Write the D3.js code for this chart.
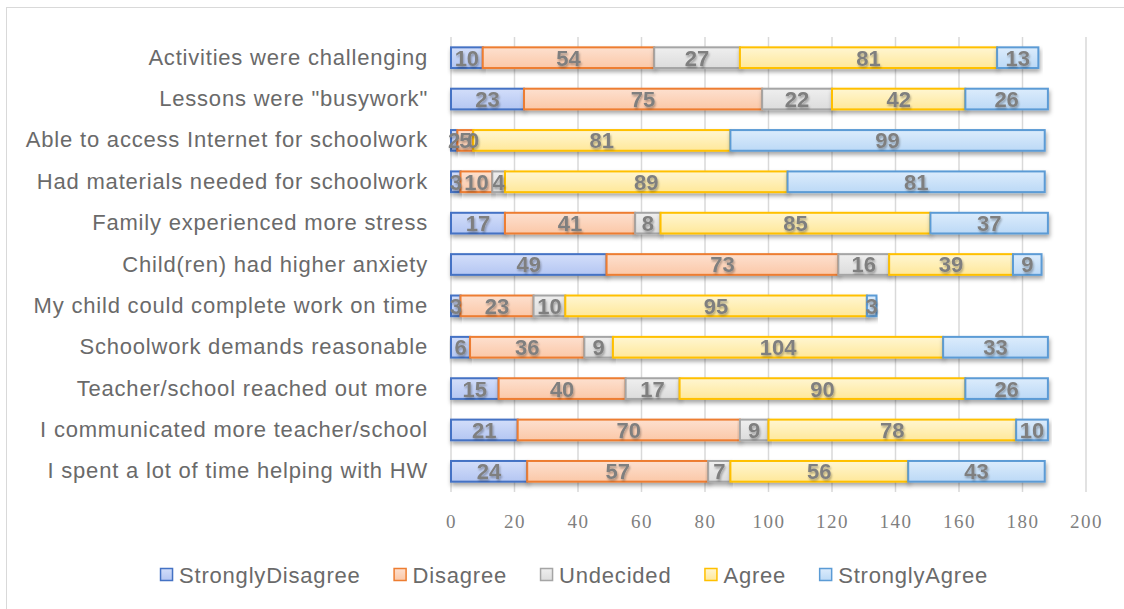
<!DOCTYPE html>
<html>
<head>
<meta charset="utf-8">
<script src="https://cdn.jsdelivr.net/npm/d3@7"></script>
<style>
  body { margin: 0; background: #fff; }
  svg { display: block; }
</style>
</head>
<body>
<svg id="chart"></svg>
<script>
// questions, top to bottom
var categories = [
  "Activities were challenging",
  "Lessons were \"busywork\"",
  "Able to access Internet for schoolwork",
  "Had materials needed for schoolwork",
  "Family experienced more stress",
  "Child(ren) had higher anxiety",
  "My child could complete work on time",
  "Schoolwork demands reasonable",
  "Teacher/school reached out more",
  "I communicated more teacher/school",
  "I spent a lot of time helping with HW"
];

var seriesNames = ["StronglyDisagree", "Disagree", "Undecided", "Agree", "StronglyAgree"];

var stronglyDisagree = [10, 23, 2, 3, 17, 49, 3, 6, 15, 21, 24];
var disagree         = [54, 75, 5, 10, 41, 73, 23, 36, 40, 70, 57];
var undecided        = [27, 22, 0, 4, 8, 16, 10, 9, 17, 9, 7];
var agree            = [81, 42, 81, 89, 85, 39, 95, 104, 90, 78, 56];
var stronglyAgree    = [13, 26, 99, 81, 37, 9, 3, 33, 26, 10, 43];

var xTicks = [0, 20, 40, 60, 80, 100, 120, 140, 160, 180, 200];

// colours: border, gradient top, gradient bottom
var colors = {
  StronglyDisagree: ["#4472C4", "#d3defa", "#b4c6f2"],
  Disagree:         ["#ED7D31", "#fde0cf", "#fbc8a8"],
  Undecided:        ["#A5A5A5", "#efefef", "#dcdcdc"],
  Agree:            ["#FFC000", "#fff6d2", "#ffe89a"],
  StronglyAgree:    ["#5B9BD5", "#dcecfc", "#bcd9f6"]
};

var rows = categories.map(function(c, i) {
  return {
    cat: c,
    StronglyDisagree: stronglyDisagree[i],
    Disagree: disagree[i],
    Undecided: undecided[i],
    Agree: agree[i],
    StronglyAgree: stronglyAgree[i]
  };
});

var W = 1124, H = 609;
var plot = { left: 451, right: 1086, top: 37, bottom: 492 };
var sans = "'Liberation Sans', Arial, sans-serif";

var svg = d3.select("#chart").attr("width", W).attr("height", H);

var defs = svg.append("defs");
seriesNames.forEach(function(s, i) {
  var g = defs.append("linearGradient")
    .attr("id", "grad" + i)
    .attr("x1", 0).attr("y1", 0).attr("x2", 0).attr("y2", 1);
  g.append("stop").attr("offset", "0%").attr("stop-color", colors[s][1]);
  g.append("stop").attr("offset", "100%").attr("stop-color", colors[s][2]);
});
var f = defs.append("filter").attr("id", "shadow")
  .attr("x", "-10%").attr("y", "-30%").attr("width", "120%").attr("height", "180%");
f.append("feDropShadow").attr("dx", 1).attr("dy", 3).attr("stdDeviation", 2)
  .attr("flood-color", "#000").attr("flood-opacity", 0.35);
var ft = defs.append("filter").attr("id", "tshadow")
  .attr("x", "-20%").attr("y", "-20%").attr("width", "150%").attr("height", "160%");
ft.append("feDropShadow").attr("dx", 1).attr("dy", 2).attr("stdDeviation", 1.2)
  .attr("flood-color", "#000").attr("flood-opacity", 0.3);

// chart border
svg.append("rect")
  .attr("x", 6.5).attr("y", 7.5)
  .attr("width", W - 4).attr("height", H - 4)
  .attr("fill", "none").attr("stroke", "#d9d9d9").attr("stroke-width", 1);

var x = d3.scaleLinear().domain([0, 200]).range([plot.left, plot.right]);
var y = d3.scaleBand().domain(categories).range([plot.top, plot.bottom]).paddingInner(0.5).paddingOuter(0.25);

// gridlines
svg.append("g").selectAll("line")
  .data(xTicks)
  .join("line")
  .attr("x1", function(d) { return x(d); })
  .attr("x2", function(d) { return x(d); })
  .attr("y1", plot.top).attr("y2", plot.bottom)
  .attr("stroke", "#d9d9d9").attr("stroke-width", 1.5);

// x axis labels
var xAxis = svg.append("g")
  .attr("transform", "translate(0," + (plot.bottom + 22) + ")")
  .call(d3.axisBottom(x).tickValues(xTicks).tickSize(0).tickPadding(0).tickFormat(d3.format("d")));
xAxis.select(".domain").remove();
xAxis.selectAll("text")
  .attr("font-family", "'Liberation Serif', 'DejaVu Serif', serif")
  .attr("font-size", 19)
  .attr("letter-spacing", 1.5)
  .attr("fill", "#7f7f7f");

// y axis labels
var yAxis = svg.append("g")
  .attr("transform", "translate(" + (plot.left - 23) + ",0)")
  .call(d3.axisLeft(y).tickSize(0).tickPadding(0));
yAxis.select(".domain").remove();
yAxis.selectAll("text")
  .attr("font-family", sans)
  .attr("font-size", 22)
  .attr("letter-spacing", 0.8)
  .attr("fill", "#6a6a6a");

var stacked = d3.stack().keys(seriesNames)(rows);

var layers = svg.append("g").selectAll("g")
  .data(stacked)
  .join("g");

layers.selectAll("rect")
  .data(function(d, i) { return d.map(function(p) { return { p: p, k: i }; }); })
  .join("rect")
  .attr("x", function(d) { return x(d.p[0]); })
  .attr("y", function(d) { return y(d.p.data.cat); })
  .attr("width", function(d) { return x(d.p[1]) - x(d.p[0]); })
  .attr("height", y.bandwidth())
  .attr("fill", function(d) { return "url(#grad" + d.k + ")"; })
  .attr("stroke", function(d) { return colors[seriesNames[d.k]][0]; })
  .attr("stroke-width", 2)
  .attr("filter", "url(#shadow)");

// value labels
var labels = svg.append("g").attr("filter", "url(#tshadow)");
stacked.forEach(function(layer) {
  labels.selectAll(null)
    .data(layer)
    .join("text")
    .attr("x", function(d) { return (x(d[0]) + x(d[1])) / 2; })
    .attr("y", function(d) { return y(d.data.cat) + y.bandwidth() / 2; })
    .attr("dy", "0.36em")
    .attr("text-anchor", "middle")
    .attr("font-family", sans)
    .attr("font-weight", "bold")
    .attr("font-size", 22)
    .attr("fill", "#7f7f7f")
    .text(function(d) { return d[1] - d[0]; });
});

// legend
var legend = svg.append("g");
var lx = 0;
seriesNames.forEach(function(s, i) {
  var g = legend.append("g");
  g.append("rect")
    .attr("x", 0.5).attr("y", -6.5)
    .attr("width", 12).attr("height", 12)
    .attr("fill", "url(#grad" + i + ")")
    .attr("stroke", colors[s][0]).attr("stroke-width", 1.5);
  var t = g.append("text")
    .attr("x", 19).attr("dy", "0.35em")
    .attr("font-family", sans)
    .attr("font-size", 22)
    .attr("letter-spacing", 0.8)
    .attr("fill", "#6a6a6a")
    .text(s);
  g.attr("transform", "translate(" + lx + ",0)");
  lx += 19 + t.node().getComputedTextLength() + 33;
});
var legendWidth = lx - 33;
legend.attr("transform", "translate(" + (574 - legendWidth / 2) + ",575)");
</script>
</body>
</html>
